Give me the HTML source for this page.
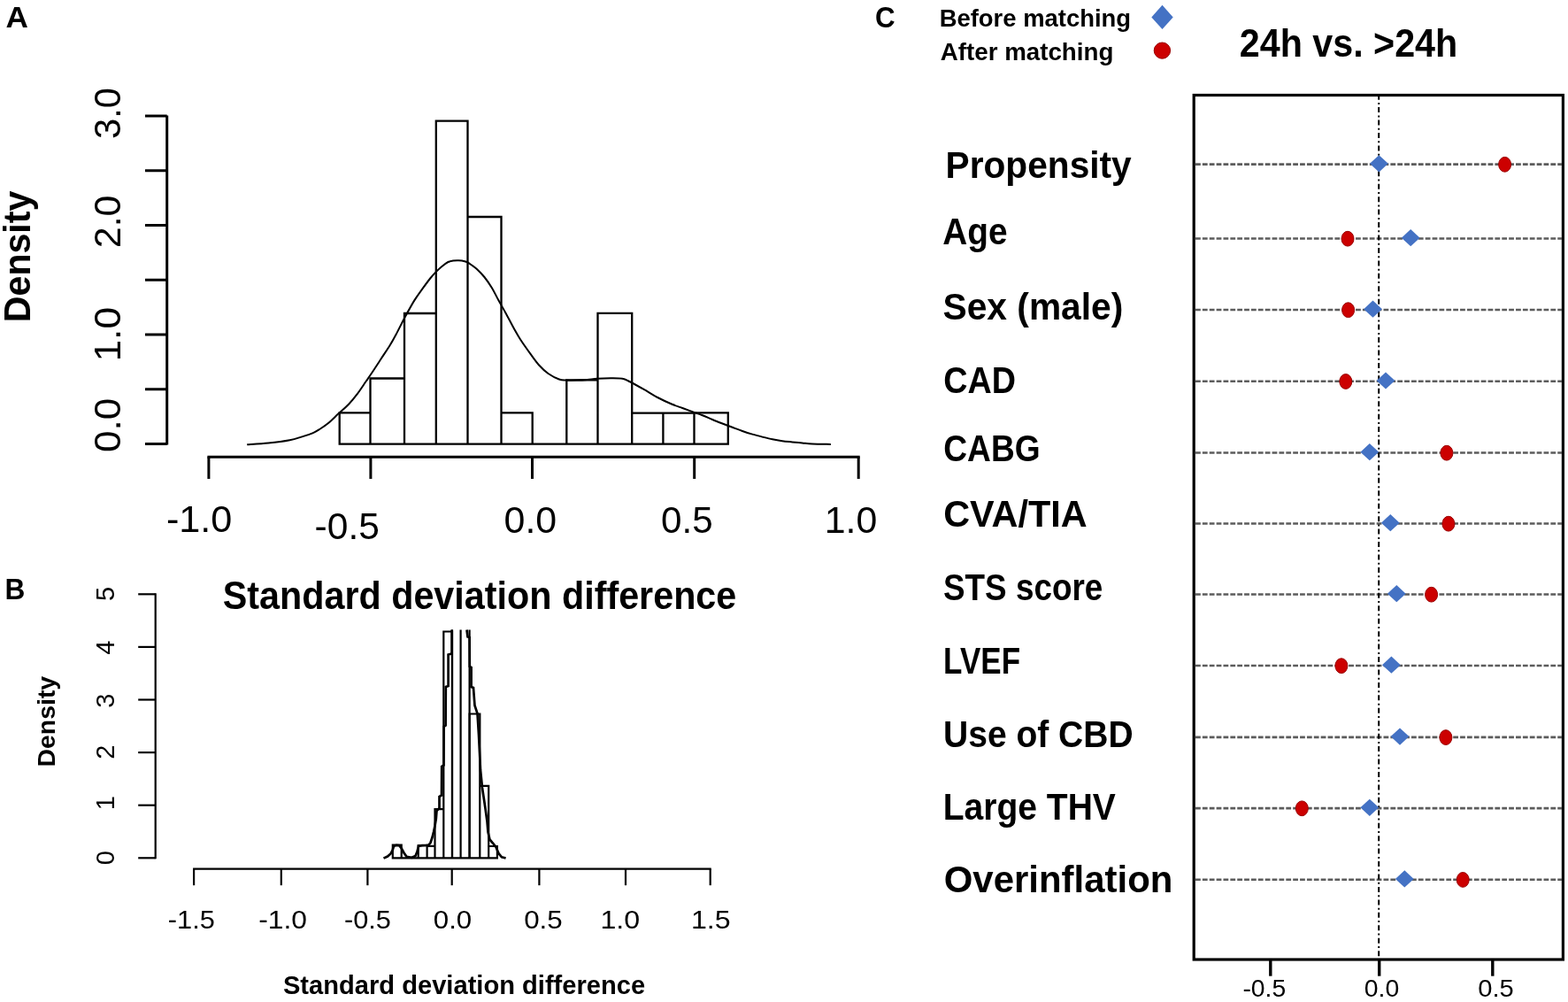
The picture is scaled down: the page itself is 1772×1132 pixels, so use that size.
<!DOCTYPE html><html><head><meta charset="utf-8"><title>Figure</title><style>html,body{margin:0;padding:0;background:#fff;}svg{display:block;}text{font-family:"Liberation Sans", Arial, sans-serif;}</style></head><body>
<svg width="1772" height="1132" viewBox="0 0 1772 1132">
<rect x="0" y="0" width="1772" height="1132" fill="#fff"/>
<text x="6.42" y="30.7" font-size="33" font-weight="bold" textLength="25.4" lengthAdjust="spacingAndGlyphs" fill="#000">A</text>
<text transform="translate(33.7 361.4) rotate(-90)" x="-2.75" y="0" font-size="42" font-weight="bold" textLength="148.47" lengthAdjust="spacingAndGlyphs" fill="#000">Density</text>
<line x1="188.7" y1="130.5" x2="188.7" y2="502.6" stroke="#000" stroke-width="3"/>
<line x1="164" y1="501.5" x2="188.7" y2="501.5" stroke="#000" stroke-width="3"/>
<line x1="164" y1="439.75" x2="188.7" y2="439.75" stroke="#000" stroke-width="3"/>
<line x1="164" y1="378" x2="188.7" y2="378" stroke="#000" stroke-width="3"/>
<line x1="164" y1="316.25" x2="188.7" y2="316.25" stroke="#000" stroke-width="3"/>
<line x1="164" y1="254.5" x2="188.7" y2="254.5" stroke="#000" stroke-width="3"/>
<line x1="164" y1="192.75" x2="188.7" y2="192.75" stroke="#000" stroke-width="3"/>
<line x1="164" y1="131" x2="188.7" y2="131" stroke="#000" stroke-width="3"/>
<text transform="translate(136.3 509.3) rotate(-90)" x="-1.73" y="0" font-size="42" textLength="61.45" lengthAdjust="spacingAndGlyphs" fill="#000">0.0</text>
<text transform="translate(136.3 405.2) rotate(-90)" x="-3.38" y="0" font-size="42" textLength="61.61" lengthAdjust="spacingAndGlyphs" fill="#000">1.0</text>
<text transform="translate(136.3 278) rotate(-90)" x="-2.15" y="0" font-size="42" textLength="59.53" lengthAdjust="spacingAndGlyphs" fill="#000">2.0</text>
<text transform="translate(136.3 155.5) rotate(-90)" x="-1.59" y="0" font-size="42" textLength="58.02" lengthAdjust="spacingAndGlyphs" fill="#000">3.0</text>
<line x1="234.4" y1="516.3" x2="971.7" y2="516.3" stroke="#000" stroke-width="3"/>
<line x1="235.9" y1="516.3" x2="235.9" y2="541" stroke="#000" stroke-width="3"/>
<line x1="418.9" y1="516.3" x2="418.9" y2="541" stroke="#000" stroke-width="3"/>
<line x1="601.5" y1="516.3" x2="601.5" y2="541" stroke="#000" stroke-width="3"/>
<line x1="784.7" y1="516.3" x2="784.7" y2="541" stroke="#000" stroke-width="3"/>
<line x1="970.2" y1="516.3" x2="970.2" y2="541" stroke="#000" stroke-width="3"/>
<text x="187.98" y="601.3" font-size="42" textLength="74.41" lengthAdjust="spacingAndGlyphs" fill="#000">-1.0</text>
<text x="355.61" y="608.8" font-size="42" textLength="73.28" lengthAdjust="spacingAndGlyphs" fill="#000">-0.5</text>
<text x="569.52" y="601.8" font-size="42" textLength="59.65" lengthAdjust="spacingAndGlyphs" fill="#000">0.0</text>
<text x="747.05" y="601.8" font-size="42" textLength="58.62" lengthAdjust="spacingAndGlyphs" fill="#000">0.5</text>
<text x="931.74" y="601.5" font-size="42" textLength="59.54" lengthAdjust="spacingAndGlyphs" fill="#000">1.0</text>
<path fill="none" stroke="#000" stroke-width="2.3" stroke-linecap="square" d="M383.7,466.3 L418.5,466.3 M418.5,427.5 L457,427.5 M457,354 L492.8,354 M492.8,136.7 L528.5,136.7 M528.5,245 L566.5,245 M566.5,466.3 L601.7,466.3 M640.3,429.4 L675.5,429.4 M675.5,353.8 L714.2,353.8 M714.2,466.7 L749.4,466.7 M749.4,466.7 L784.5,466.7 M784.5,466.3 L822.8,466.3 M383.7,466.3 L383.7,501.6 M418.5,427.5 L418.5,501.6 M457,354 L457,501.6 M492.8,136.7 L492.8,501.6 M528.5,136.7 L528.5,501.6 M566.5,245 L566.5,501.6 M601.7,466.3 L601.7,501.6 M640.3,429.4 L640.3,501.6 M675.5,353.8 L675.5,501.6 M714.2,353.8 L714.2,501.6 M749.4,466.7 L749.4,501.6 M784.5,466.3 L784.5,501.6 M822.8,466.3 L822.8,501.6 M383.7,501.6 L822.8,501.6"/>
<path fill="none" stroke="#000" stroke-width="2" stroke-linejoin="round" d="M279.2,502.3 C283.22,502.02 295.27,501.43 303.3,500.6 C311.33,499.77 321.08,498.5 327.4,497.3 C333.72,496.1 336.8,494.77 341.2,493.4 C345.6,492.03 350.37,490.58 353.8,489.1 C357.23,487.62 358.93,486.35 361.8,484.5 C364.67,482.65 367.55,480.87 371,478 C374.45,475.13 378.67,470.85 382.5,467.3 C386.33,463.75 390.37,460.53 394,456.7 C397.63,452.87 401.05,448.58 404.3,444.3 C407.55,440.02 410.82,434.88 413.5,431 C416.18,427.12 417.53,425.28 420.4,421 C423.27,416.72 427.27,410.55 430.7,405.3 C434.13,400.05 438.03,394.37 441,389.5 C443.97,384.63 445.83,381.1 448.5,376.1 C451.17,371.1 453.7,365.62 457,359.5 C460.3,353.38 464.77,345.12 468.3,339.4 C471.83,333.68 475.15,329.43 478.2,325.2 C481.25,320.97 484.25,316.93 486.6,314 C488.95,311.07 490.17,309.77 492.3,307.6 C494.43,305.43 497.05,302.93 499.4,301 C501.75,299.07 504.3,297.07 506.4,296 C508.5,294.93 510.23,294.88 512,294.6 C513.77,294.32 515.33,294.32 517,294.3 C518.67,294.28 520.23,294.22 522,294.5 C523.77,294.78 525.77,295.17 527.6,296 C529.43,296.83 531.12,298.17 533,299.5 C534.88,300.83 536.5,301.75 538.9,304 C541.3,306.25 544.57,309.47 547.4,313 C550.23,316.53 553.3,320.95 555.9,325.2 C558.5,329.45 560.42,333.78 563,338.5 C565.58,343.22 568.35,347.92 571.4,353.5 C574.45,359.08 578.47,366.92 581.3,372 C584.13,377.08 585.33,379.32 588.4,384 C591.47,388.68 596.17,395.27 599.7,400.1 C603.23,404.93 606.3,409.35 609.6,413 C612.9,416.65 615.8,419.42 619.5,422 C623.2,424.58 628.38,427.23 631.8,428.5 C635.22,429.77 636.63,429.42 640,429.6 C643.37,429.78 648.07,429.7 652,429.6 C655.93,429.5 659.82,429.3 663.6,429 C667.38,428.7 670.3,428.08 674.7,427.8 C679.1,427.52 685.23,427.3 690,427.3 C694.77,427.3 699.75,427.18 703.3,427.8 C706.85,428.42 707.32,429.02 711.3,431 C715.28,432.98 721.9,436.7 727.2,439.7 C732.5,442.7 737.8,446.2 743.1,449 C748.4,451.8 754.3,454.5 759,456.5 C763.7,458.5 767.37,459.55 771.3,461 C775.23,462.45 778.83,463.83 782.6,465.2 C786.37,466.57 790.15,467.73 793.9,469.2 C797.65,470.67 801.35,472.45 805.1,474 C808.85,475.55 812.63,477.03 816.4,478.5 C820.17,479.97 823.93,481.38 827.7,482.8 C831.47,484.22 835.23,485.7 839,487 C842.77,488.3 846.53,489.5 850.3,490.6 C854.07,491.7 857.83,492.65 861.6,493.6 C865.37,494.55 869.17,495.53 872.9,496.3 C876.63,497.07 880.25,497.68 884,498.2 C887.75,498.72 891.62,499.02 895.4,499.4 C899.18,499.78 902.93,500.15 906.7,500.5 C910.47,500.85 912.63,501.27 918,501.5 C923.37,501.73 935.42,501.83 938.9,501.9"/>
<text x="5.58" y="676.9" font-size="33" font-weight="bold" textLength="22.85" lengthAdjust="spacingAndGlyphs" fill="#000">B</text>
<text x="251.71" y="688" font-size="44.5" font-weight="bold" textLength="580.6" lengthAdjust="spacingAndGlyphs" fill="#000">Standard deviation difference</text>
<text transform="translate(61.5 864.6) rotate(-90)" x="-1.9" y="0" font-size="28.5" font-weight="bold" textLength="102.65" lengthAdjust="spacingAndGlyphs" fill="#000">Density</text>
<line x1="175.7" y1="670.3" x2="175.7" y2="970.3" stroke="#000" stroke-width="2.2"/>
<line x1="156.2" y1="969.3" x2="175.7" y2="969.3" stroke="#000" stroke-width="2.2"/>
<line x1="156.2" y1="909.7" x2="175.7" y2="909.7" stroke="#000" stroke-width="2.2"/>
<line x1="156.2" y1="850.1" x2="175.7" y2="850.1" stroke="#000" stroke-width="2.2"/>
<line x1="156.2" y1="790.5" x2="175.7" y2="790.5" stroke="#000" stroke-width="2.2"/>
<line x1="156.2" y1="730.9" x2="175.7" y2="730.9" stroke="#000" stroke-width="2.2"/>
<line x1="156.2" y1="671.3" x2="175.7" y2="671.3" stroke="#000" stroke-width="2.2"/>
<text transform="translate(129 976.03) rotate(-90)" x="-1.13" y="0" font-size="29" textLength="16.13" lengthAdjust="spacingAndGlyphs" fill="#000">0</text>
<text transform="translate(129 912.95) rotate(-90)" x="-2.21" y="0" font-size="29" textLength="16.13" lengthAdjust="spacingAndGlyphs" fill="#000">1</text>
<text transform="translate(129 856.21) rotate(-90)" x="-1.46" y="0" font-size="29" textLength="16.13" lengthAdjust="spacingAndGlyphs" fill="#000">2</text>
<text transform="translate(129 798.57) rotate(-90)" x="-1.1" y="0" font-size="29" textLength="16.13" lengthAdjust="spacingAndGlyphs" fill="#000">3</text>
<text transform="translate(129 739.01) rotate(-90)" x="-0.67" y="0" font-size="29" textLength="16.13" lengthAdjust="spacingAndGlyphs" fill="#000">4</text>
<text transform="translate(129 677.87) rotate(-90)" x="-1.16" y="0" font-size="29" textLength="16.13" lengthAdjust="spacingAndGlyphs" fill="#000">5</text>
<line x1="218.1" y1="981.6" x2="803.7" y2="981.6" stroke="#000" stroke-width="2.2"/>
<line x1="219.1" y1="981.6" x2="219.1" y2="1000.2" stroke="#000" stroke-width="2.2"/>
<line x1="317.8" y1="981.6" x2="317.8" y2="1000.2" stroke="#000" stroke-width="2.2"/>
<line x1="415.4" y1="981.6" x2="415.4" y2="1000.2" stroke="#000" stroke-width="2.2"/>
<line x1="510.7" y1="981.6" x2="510.7" y2="1000.2" stroke="#000" stroke-width="2.2"/>
<line x1="609.4" y1="981.6" x2="609.4" y2="1000.2" stroke="#000" stroke-width="2.2"/>
<line x1="707" y1="981.6" x2="707" y2="1000.2" stroke="#000" stroke-width="2.2"/>
<line x1="802.7" y1="981.6" x2="802.7" y2="1000.2" stroke="#000" stroke-width="2.2"/>
<text x="189.83" y="1049.2" font-size="29" textLength="52.96" lengthAdjust="spacingAndGlyphs" fill="#000">-1.5</text>
<text x="292.19" y="1049.2" font-size="29" textLength="54.75" lengthAdjust="spacingAndGlyphs" fill="#000">-1.0</text>
<text x="389.03" y="1049.2" font-size="29" textLength="52.96" lengthAdjust="spacingAndGlyphs" fill="#000">-0.5</text>
<text x="489.78" y="1049.2" font-size="29" textLength="43.44" lengthAdjust="spacingAndGlyphs" fill="#000">0.0</text>
<text x="592.18" y="1049.2" font-size="29" textLength="43.54" lengthAdjust="spacingAndGlyphs" fill="#000">0.5</text>
<text x="678.45" y="1049.2" font-size="29" textLength="44.71" lengthAdjust="spacingAndGlyphs" fill="#000">1.0</text>
<text x="780.95" y="1049.2" font-size="29" textLength="44.7" lengthAdjust="spacingAndGlyphs" fill="#000">1.5</text>
<text x="319.96" y="1122.8" font-size="29.5" font-weight="bold" textLength="409.23" lengthAdjust="spacingAndGlyphs" fill="#000">Standard deviation difference</text>
<path fill="none" stroke="#000" stroke-width="2.2" stroke-linecap="square" d="M443.8,954.7 L453.7,954.7 M472.7,955.1 L482.6,955.1 M482.6,955.8 L491.5,955.8 M491.5,914.1 L501.3,914.1 M501.3,713.5 L511,713.5 M530.6,806.5 L542.3,806.5 M542.3,887.8 L552.2,887.8 M552.2,956 L561.9,956 M443.8,954.7 L443.8,969.4 M453.7,954.7 L453.7,969.4 M472.7,955.1 L472.7,969.4 M482.6,955.1 L482.6,969.4 M491.5,914.1 L491.5,969.4 M501.3,713.5 L501.3,969.4 M511,713.5 L511,969.4 M530.6,806.5 L530.6,969.4 M542.3,806.5 L542.3,969.4 M552.2,887.8 L552.2,969.4 M561.9,956 L561.9,969.4 M443.8,969.4 L561.9,969.4"/>
<line x1="511" y1="711.5" x2="511" y2="969.4" stroke="#000" stroke-width="2.2"/>
<line x1="520.6" y1="711.5" x2="520.6" y2="969.4" stroke="#000" stroke-width="2.2"/>
<line x1="530.6" y1="711.5" x2="530.6" y2="969.4" stroke="#000" stroke-width="2.2"/>
<polyline fill="none" stroke="#000" stroke-width="2.7" stroke-linejoin="miter" points="433.5,969.6 438,967.5 441.5,964.5 443.8,960 445,956 448,954.8 451,955.2 453.5,958 456.5,963.5 459.5,967.8 465.3,968.8 469.5,967 471.5,962 473,956 477,955.2 481,955 484.5,954.5 486.5,952 488.5,946 490,940 491.5,933 492.8,925 493.5,916 496.5,913 496.5,900 499,898.5 499.2,866 501.5,864.5 501.6,821 503.6,819.5 503.8,776 506.6,775 506.6,739.5 510.6,738.5 510.6,711.5"/>
<polyline fill="none" stroke="#000" stroke-width="2.7" stroke-linejoin="miter" points="527.5,711.5 528.5,719.5 530.6,720 530.8,753 532.6,754 532.6,776 535,777 536.5,797 539.5,806 541,830 542,850 543,870 545,890 548.3,912 550.5,928 551.5,940 553.5,948.5 557,952.5 560.5,957 563.7,964.5 567,968.3 571.6,969.5"/>
<text x="988.91" y="31.2" font-size="33" font-weight="bold" textLength="22.64" lengthAdjust="spacingAndGlyphs" fill="#000">C</text>
<text x="1061.67" y="30" font-size="28.5" font-weight="bold" textLength="216.37" lengthAdjust="spacingAndGlyphs" fill="#000">Before matching</text>
<text x="1062.81" y="67.8" font-size="28.5" font-weight="bold" textLength="195.54" lengthAdjust="spacingAndGlyphs" fill="#000">After matching</text>
<polygon points="1313.5,5.7 1325.7,19.4 1313.5,33.1 1301.3,19.4" fill="#4472C4"/>
<ellipse cx="1313.4" cy="57.1" rx="9.2" ry="9.1" fill="#CC0000" stroke="#9a0000" stroke-width="1"/>
<text x="1400.77" y="64.3" font-size="44" font-weight="bold" textLength="246.49" lengthAdjust="spacingAndGlyphs" fill="#000">24h vs. &gt;24h</text>
<text x="1068.58" y="200.8" font-size="43.3" font-weight="bold" textLength="210.14" lengthAdjust="spacingAndGlyphs" fill="#000">Propensity</text>
<text x="1065.33" y="275.5" font-size="43.3" font-weight="bold" textLength="73.29" lengthAdjust="spacingAndGlyphs" fill="#000">Age</text>
<text x="1065.53" y="360.6" font-size="43.3" font-weight="bold" textLength="203.8" lengthAdjust="spacingAndGlyphs" fill="#000">Sex (male)</text>
<text x="1066.25" y="444.2" font-size="43.3" font-weight="bold" textLength="81.73" lengthAdjust="spacingAndGlyphs" fill="#000">CAD</text>
<text x="1066.28" y="521.2" font-size="43.3" font-weight="bold" textLength="109.33" lengthAdjust="spacingAndGlyphs" fill="#000">CABG</text>
<text x="1066.13" y="595.3" font-size="43.3" font-weight="bold" textLength="162.44" lengthAdjust="spacingAndGlyphs" fill="#000">CVA/TIA</text>
<text x="1065.94" y="677.9" font-size="43.3" font-weight="bold" textLength="180.32" lengthAdjust="spacingAndGlyphs" fill="#000">STS score</text>
<text x="1066.12" y="760.8" font-size="43.3" font-weight="bold" textLength="86.92" lengthAdjust="spacingAndGlyphs" fill="#000">LVEF</text>
<text x="1066.06" y="843.5" font-size="43.3" font-weight="bold" textLength="214.58" lengthAdjust="spacingAndGlyphs" fill="#000">Use of CBD</text>
<text x="1065.79" y="926.3" font-size="43.3" font-weight="bold" textLength="195.08" lengthAdjust="spacingAndGlyphs" fill="#000">Large THV</text>
<text x="1066.68" y="1007.8" font-size="43.3" font-weight="bold" textLength="258.72" lengthAdjust="spacingAndGlyphs" fill="#000">Overinflation</text>
<rect x="1349.2" y="107.5" width="417.2" height="976.5" fill="none" stroke="#000" stroke-width="3.2"/>
<line x1="1351" y1="185.6" x2="1765" y2="185.6" stroke="#5c5c5c" stroke-width="2.6" stroke-dasharray="5.8 2.07"/>
<line x1="1351" y1="269.5" x2="1765" y2="269.5" stroke="#5c5c5c" stroke-width="2.6" stroke-dasharray="5.8 2.07"/>
<line x1="1351" y1="350" x2="1765" y2="350" stroke="#5c5c5c" stroke-width="2.6" stroke-dasharray="5.8 2.07"/>
<line x1="1351" y1="430.8" x2="1765" y2="430.8" stroke="#5c5c5c" stroke-width="2.6" stroke-dasharray="5.8 2.07"/>
<line x1="1351" y1="511.5" x2="1765" y2="511.5" stroke="#5c5c5c" stroke-width="2.6" stroke-dasharray="5.8 2.07"/>
<line x1="1351" y1="591.5" x2="1765" y2="591.5" stroke="#5c5c5c" stroke-width="2.6" stroke-dasharray="5.8 2.07"/>
<line x1="1351" y1="671.5" x2="1765" y2="671.5" stroke="#5c5c5c" stroke-width="2.6" stroke-dasharray="5.8 2.07"/>
<line x1="1351" y1="752" x2="1765" y2="752" stroke="#5c5c5c" stroke-width="2.6" stroke-dasharray="5.8 2.07"/>
<line x1="1351" y1="832.9" x2="1765" y2="832.9" stroke="#5c5c5c" stroke-width="2.6" stroke-dasharray="5.8 2.07"/>
<line x1="1351" y1="913.1" x2="1765" y2="913.1" stroke="#5c5c5c" stroke-width="2.6" stroke-dasharray="5.8 2.07"/>
<line x1="1351" y1="993.7" x2="1765" y2="993.7" stroke="#5c5c5c" stroke-width="2.6" stroke-dasharray="5.8 2.07"/>
<line x1="1558.2" y1="109" x2="1558.2" y2="1082.4" stroke="#000" stroke-width="2" stroke-dasharray="6 3.3 2 3.14" stroke-dashoffset="2.34"/>
<polygon points="1558.4,175.2 1568.8,184.8 1558.4,194.4 1548,184.8" fill="#4472C4"/>
<ellipse cx="1700.6" cy="185.8" rx="7" ry="8.4" fill="#CC0000" stroke="#9a0000" stroke-width="1"/>
<polygon points="1594.2,259.1 1604.6,268.7 1594.2,278.3 1583.8,268.7" fill="#4472C4"/>
<ellipse cx="1523" cy="269.7" rx="7" ry="8.4" fill="#CC0000" stroke="#9a0000" stroke-width="1"/>
<polygon points="1551.5,339.6 1561.9,349.2 1551.5,358.8 1541.1,349.2" fill="#4472C4"/>
<ellipse cx="1523.6" cy="350.2" rx="7" ry="8.4" fill="#CC0000" stroke="#9a0000" stroke-width="1"/>
<polygon points="1566,420.4 1576.4,430 1566,439.6 1555.6,430" fill="#4472C4"/>
<ellipse cx="1520.8" cy="431" rx="7" ry="8.4" fill="#CC0000" stroke="#9a0000" stroke-width="1"/>
<polygon points="1547.8,501.1 1558.2,510.7 1547.8,520.3 1537.4,510.7" fill="#4472C4"/>
<ellipse cx="1634.9" cy="511.7" rx="7" ry="8.4" fill="#CC0000" stroke="#9a0000" stroke-width="1"/>
<polygon points="1571.3,581.1 1581.7,590.7 1571.3,600.3 1560.9,590.7" fill="#4472C4"/>
<ellipse cx="1636.9" cy="591.7" rx="7" ry="8.4" fill="#CC0000" stroke="#9a0000" stroke-width="1"/>
<polygon points="1578.3,661.1 1588.7,670.7 1578.3,680.3 1567.9,670.7" fill="#4472C4"/>
<ellipse cx="1617.6" cy="671.7" rx="7" ry="8.4" fill="#CC0000" stroke="#9a0000" stroke-width="1"/>
<polygon points="1572.4,741.6 1582.8,751.2 1572.4,760.8 1562,751.2" fill="#4472C4"/>
<ellipse cx="1515.9" cy="752.2" rx="7" ry="8.4" fill="#CC0000" stroke="#9a0000" stroke-width="1"/>
<polygon points="1582,822.5 1592.4,832.1 1582,841.7 1571.6,832.1" fill="#4472C4"/>
<ellipse cx="1633.9" cy="833.1" rx="7" ry="8.4" fill="#CC0000" stroke="#9a0000" stroke-width="1"/>
<polygon points="1547.8,902.7 1558.2,912.3 1547.8,921.9 1537.4,912.3" fill="#4472C4"/>
<ellipse cx="1471.3" cy="913.3" rx="7" ry="8.4" fill="#CC0000" stroke="#9a0000" stroke-width="1"/>
<polygon points="1587.3,983.3 1597.7,992.9 1587.3,1002.5 1576.9,992.9" fill="#4472C4"/>
<ellipse cx="1653.2" cy="993.9" rx="7" ry="8.4" fill="#CC0000" stroke="#9a0000" stroke-width="1"/>
<line x1="1435.8" y1="1084" x2="1435.8" y2="1102.7" stroke="#000" stroke-width="3.4"/>
<line x1="1558.7" y1="1084" x2="1558.7" y2="1102.7" stroke="#000" stroke-width="3.4"/>
<line x1="1686.8" y1="1084" x2="1686.8" y2="1102.7" stroke="#000" stroke-width="3.4"/>
<text x="1404.44" y="1126.2" font-size="27" textLength="48.74" lengthAdjust="spacingAndGlyphs" fill="#000">-0.5</text>
<text x="1541.79" y="1126.2" font-size="27" textLength="39.42" lengthAdjust="spacingAndGlyphs" fill="#000">0.0</text>
<text x="1670.16" y="1126.2" font-size="27" textLength="40.57" lengthAdjust="spacingAndGlyphs" fill="#000">0.5</text>
</svg></body></html>
